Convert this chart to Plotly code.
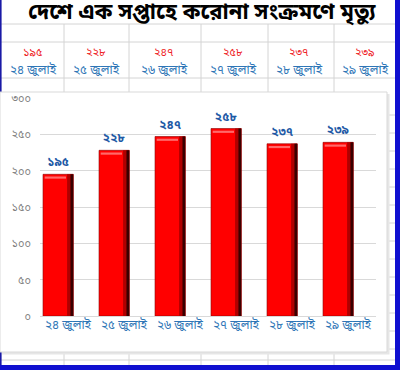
import plotly.graph_objects as go

# ---- data ----
dates = ["২৪ জুলাই", "২৫ জুলাই", "২৬ জুলাই", "২৭ জুলাই", "২৮ জুলাই", "২৯ জুলাই"]
deaths = [195, 228, 247, 258, 237, 239]
y_ticks = [0, 50, 100, 150, 200, 250, 300]
title_text = "দেশে এক সপ্তাহে করোনা সংক্রমণে মৃত্যু"

BN = str.maketrans("0123456789", "০১২৩৪৫৬৭৮৯")
def bn(n):
    return str(n).translate(BN)

W, H = 400, 370
L, R, T, B = 40, 24, 98, 54
PW, PH = W - L - R, H - T - B

def px(x):
    return (x - L) / PW

def py(y):
    return (H - B - y) / PH

FONT = "Noto Sans Bengali, Noto Sans, Lato, sans-serif"
GRID = "#d4d4d4"

fig = go.Figure()

# main red bars
BW = 0.54
OFF = -0.446
fig.add_trace(go.Bar(
    x=dates, y=deaths, width=BW, offset=OFF,
    marker=dict(color="#ff0000", line=dict(color="#8a0000", width=0.6)),
    text=[bn(v) for v in deaths], textposition="outside",
    textfont=dict(color="#1f5aa6", size=12, family=FONT, weight="bold"),
    cliponaxis=False, hoverinfo="skip",
))
# dark shading on right side of bars
fig.add_trace(go.Bar(
    x=dates, y=deaths, width=0.11, offset=OFF + BW - 0.11,
    marker=dict(color="#b00000", line=dict(width=0)), hoverinfo="skip",
))
fig.add_trace(go.Bar(
    x=dates, y=deaths, width=0.05, offset=OFF + BW - 0.05,
    marker=dict(color="#3a0000", line=dict(width=0)), hoverinfo="skip",
))
# light highlight near top of bars
fig.add_trace(go.Bar(
    x=dates, y=[3] * len(deaths), base=[v - 6 for v in deaths],
    width=BW - 0.16, offset=OFF + 0.03,
    marker=dict(color="#ff6a6a", line=dict(width=0)), hoverinfo="skip",
))

shapes = []
def line(x0, y0, x1, y1, color=GRID, width=1):
    shapes.append(dict(type="line", xref="paper", yref="paper",
                       x0=px(x0), y0=py(y0), x1=px(x1), y1=py(y1),
                       line=dict(color=color, width=width), layer="below"))

# spreadsheet grid
for yy in [24, 42, 78]:
    line(0, yy, 395, yy)
for xx in [64, 129, 201, 268, 334]:
    line(xx, 24, xx, 92)
    line(xx, 352, xx, 365)
for yy in range(115, 352, 18):
    line(387, yy, 395, yy)
line(0, 360, 395, 360)

# blue border
line(0.8, 0, 0.8, 370, color="#1a1aa6", width=1.6)
line(397.5, 0, 397.5, 370, color="#1010d0", width=5)
line(0, 367.5, 400, 367.5, color="#1010d0", width=5)

# chart area with shadow
shapes.append(dict(type="rect", xref="paper", yref="paper",
                   x0=px(2), y0=py(94), x1=px(389.5), y1=py(354.5),
                   fillcolor="#e6e6e6", line=dict(width=0), layer="below"))
shapes.append(dict(type="rect", xref="paper", yref="paper",
                   x0=px(0), y0=py(92), x1=px(387), y1=py(352),
                   fillcolor="white", line=dict(color="#d9d9d9", width=1), layer="below"))

annotations = [dict(text="<b>" + title_text + "</b>", x=px(202), y=py(13),
                    xref="paper", yref="paper", showarrow=False,
                    xanchor="center", yanchor="middle",
                    font=dict(size=22, color="black", family=FONT))]
col_centers = [33, 96, 164, 233, 299, 365]
for cx, d, v in zip(col_centers, dates, deaths):
    annotations.append(dict(text=bn(v), x=px(cx), y=py(53), xref="paper", yref="paper",
                            showarrow=False, xanchor="center", yanchor="middle",
                            font=dict(size=11, color="#ee1c25", family=FONT)))
    annotations.append(dict(text=d, x=px(cx), y=py(70), xref="paper", yref="paper",
                            showarrow=False, xanchor="center", yanchor="middle",
                            font=dict(size=12, color="#2e75b6", family=FONT)))

fig.update_layout(
    width=W, height=H,
    margin=dict(l=L, r=R, t=T, b=B),
    paper_bgcolor="white", plot_bgcolor="rgba(0,0,0,0)",
    barmode="overlay", showlegend=False,
    shapes=shapes, annotations=annotations,
    xaxis=dict(type="category", range=[-0.5, 5.5], showgrid=False,
               tickfont=dict(size=12, color="#2e75b6", family=FONT),
               ticks="", showline=False, fixedrange=True),
    yaxis=dict(range=[0, 300], tickvals=y_ticks, ticktext=[bn(v) for v in y_ticks],
               showgrid=True, gridcolor="#d9d9d9", gridwidth=1,
               zeroline=True, zerolinecolor="#d9d9d9", zerolinewidth=1,
               tickfont=dict(size=11, color="#7f7f7f", family=FONT),
               ticklabelstandoff=8, showline=False, fixedrange=True),
)

fig.write_html("out.html", config={"displayModeBar": False},
               post_script="document.body.style.margin='0px';document.body.style.overflow='hidden';")
